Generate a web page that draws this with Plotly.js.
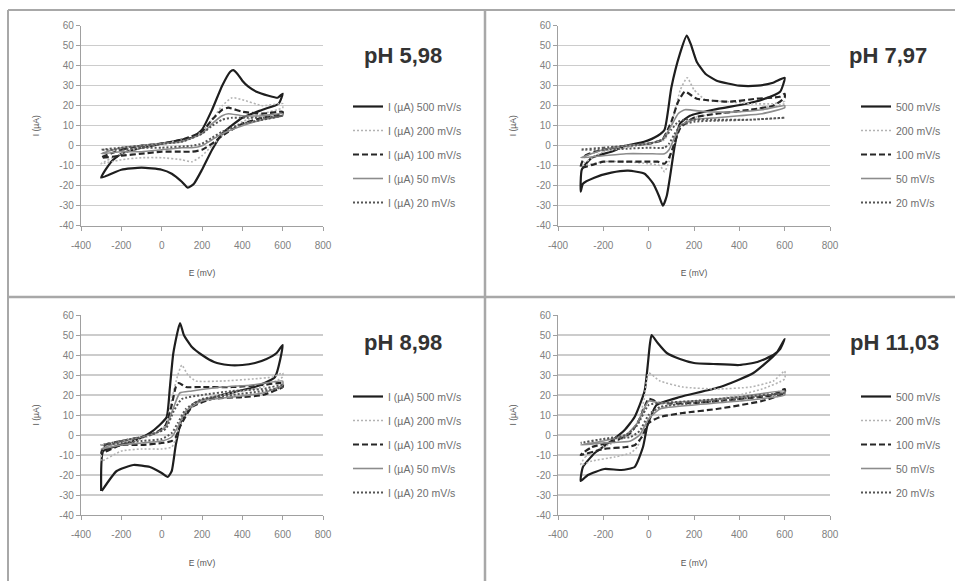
<!DOCTYPE html>
<html>
<head>
<meta charset="utf-8">
<script src="https://cdn.plot.ly/plotly-3.0.1.min.js"></script>
<style>html,body{margin:0;padding:0;background:#fff;}#chart{width:955px;height:581px;}</style>
</head>
<body>
<div id="chart"></div>
<script>
// ---------- tick labels ----------
const xTickVals = [-400, -200, 0, 200, 400, 600, 800];
const xTickText = ["-400", "-200", "0", "200", "400", "600", "800"];
const yTickVals = [-40, -30, -20, -10, 0, 10, 20, 30, 40, 50, 60];
const yTickText = ["-40", "-30", "-20", "-10", "0", "10", "20", "30", "40", "50", "60"];

// ---------- panel titles & series names ----------
const panelTitles = ["pH 5,98", "pH 7,97", "pH 8,98", "pH 11,03"];
const scanRates = ["500 mV/s", "200 mV/s", "100 mV/s", "50 mV/s", "20 mV/s"];
const namePrefix = ["I (µA) ", "", "I (µA) ", ""];

// ---------- pH 5,98 ----------
const E_598_500 = [-300,-250,-200,-100,0,100,150,200,250,300,340,355,375,400,430,470,530,575,600, 580,500,400,300,250,200,160,130,100,50,0,-100,-200,-300];
const I_598_500 = [-16,-8,-4,-1,1,3,4,8,18,30,37,37.8,36,32.5,29.5,27,25,24,26, 21,18,14,6,-2,-12,-19,-21,-18,-14,-12,-11,-12,-16];
const E_598_200 = [-300,-200,-100,0,100,200,250,300,350,400,500,600, 600,500,400,300,250,200,150,100,0,-100,-200,-300];
const I_598_200 = [-9,-4,-1,1,3,7,13,20,24,23,20,21, 19,16,12,5,0,-5,-8,-7,-6,-6,-7,-9];
const E_598_100 = [-300,-200,-100,0,100,200,250,300,330,400,500,600, 600,500,400,300,250,200,150,100,0,-100,-200,-300];
const I_598_100 = [-6,-2,0,1,3,7,13,18,19,17,16,17, 16,14,11,5,1,-2,-3,-3,-3,-4,-5,-6];
const E_598_50 = [-300,-200,-100,0,100,200,250,300,330,400,500,600, 600,500,400,300,250,200,150,100,0,-100,-200,-300];
const I_598_50 = [-4,-1,0,1,2,6,11,15,16,15,15,16, 15,13,10,6,3,0,-1,-1,-2,-3,-3,-4];
const E_598_20 = [-300,-200,-100,0,100,200,250,300,350,400,500,600, 600,500,400,300,250,200,150,0,-100,-200,-300];
const I_598_20 = [-2,-1,0,1,2,6,10,13,14,14,14,15, 15,13,11,7,4,1,0,-1,-1,-2,-2];

// ---------- pH 7,97 ----------
const E_797_500 = [-300,-295,-250,-165,-100,-20,40,70,100,138,168,185,212,250,300,400,480,549,600, 580,500,432,285,182,138,115,95,80,63,45,20,-18,-91,-165,-240,-290,-300];
const I_797_500 = [-23,-12,-6,-3,0,2,5,8,29,46,55,51,42,36,32.5,30,30,31.5,34, 27,23,21,18,15,11,0,-15,-25,-30,-25,-19,-14,-12.5,-13.5,-16,-19,-23];
const E_797_200 = [-300,-200,-100,0,70,110,140,170,200,250,350,450,550,600, 600,500,400,300,200,140,110,90,70,50,0,-100,-200,-300];
const I_797_200 = [-10,-3,-1,1,3,15,28,34,28,23,22,21,21,22, 21,19,17,16,14,10,0,-8,-13,-10,-9,-8,-8,-10];
const E_797_100 = [-300,-280,-200,-100,0,60,100,130,160,212,359,476,579,600, 600,550,450,300,200,140,110,90,70,40,0,-100,-200,-300];
const I_797_100 = [-11,-5,-2,0,1,3,12,22,27,23.5,22,23.5,24.5,26, 24,20,18,16,14,9,0,-6,-9,-8,-8,-8,-8,-11];
const E_797_50 = [-300,-200,-100,0,60,100,130,160,250,400,500,600, 600,500,400,300,200,140,110,90,70,0,-100,-200,-300];
const I_797_50 = [-6,-2,0,1,3,10,16,18,17,17,18,20, 19,16,15,14,13,10,3,-2,-4,-4,-4,-5,-6];
const E_797_20 = [-300,-200,-100,0,60,100,130,160,300,450,600, 600,450,300,200,140,110,90,70,0,-100,-200,-300];
const I_797_20 = [-2,-1,0,1,3,8,12,13,13,13,14, 14,13,12.5,12,10,5,1,-1,-1,-1.5,-2,-2];

// ---------- pH 8,98 ----------
const E_898_500 = [-300,-290,-223,-140,-58,-10,25,41,58,91,110,150,200,260,330,400,463,520,570,600, 562,463,297,165,99,70,50,30,0,-58,-140,-223,-297];
const I_898_500 = [-28,-8,-5.5,-3,1,5,9,24,41,56,50,44,40,36.5,35,35,36,38,41,45, 29,24,20,16,7.5,-5,-18,-21,-19,-16,-15,-18,-28];
const E_898_200 = [-300,-290,-200,-100,-30,20,50,80,100,130,170,300,450,550,600, 600,500,400,250,150,90,70,50,0,-100,-200,-300];
const I_898_200 = [-13,-7,-4,-2,1,5,18,30,35,30,27,27,28,29,31, 29,24,22,19,15,5,-2,-6,-7,-7,-8,-13];
const E_898_100 = [-300,-280,-200,-100,-30,20,50,70,85,120,200,350,500,600, 600,500,400,250,150,90,70,50,0,-100,-200,-300];
const I_898_100 = [-9,-5,-3,-1,1,5,15,24,26,24,24,24,25,26, 24,20,19,18,14,4,-1,-3,-4,-5,-5,-9];
const E_898_50 = [-300,-200,-100,-30,20,60,90,150,300,450,600, 600,500,350,200,120,80,50,0,-100,-200,-300];
const I_898_50 = [-7,-3,-1,1,4,14,21,22,24,25,27, 25,21,19,17,12,4,-1,-3,-4,-5,-7];
const E_898_20 = [-300,-200,-100,-30,20,60,100,200,350,500,600, 600,500,350,200,120,80,50,0,-100,-200,-300];
const I_898_20 = [-5,-3,-1,1,3,12,18,20,22,23,25, 24,22,20,18,13,6,1,-2,-3,-4,-5];

// ---------- pH 11,03 ----------
const E_1103_500 = [-300,-290,-238,-165,-106,-62,-18,5,13,40,80,138,200,285,400,480,550,580,600, 564,462,315,138,35,-5,-25,-62,-121,-195,-268,-300];
const I_1103_500 = [-23,-16,-9,-3,2.5,9,22,45,50,46,41,38,36,35.5,35,36.5,40,43,48, 41,31,24,19,15,5,-6,-16,-17.5,-17,-20,-23];
const E_1103_200 = [-300,-280,-200,-100,-50,-20,0,50,150,300,450,550,600, 600,500,400,250,100,20,-20,-50,-80,-150,-250,-300];
const I_1103_200 = [-15,-11,-6,-1,5,18,31,27,24,23,24,27,32, 28,23,20,17,15,12,3,-6,-9,-11,-13,-15];
const E_1103_100 = [-300,-250,-150,-80,-40,0,50,200,400,550,600, 600,500,300,150,50,0,-30,-60,-100,-200,-300];
const I_1103_100 = [-10,-6,-3,1,8,18,16,16,18,20,23, 21,17,13,11,9,6,-1,-5,-6,-7,-10];
const E_1103_50 = [-300,-200,-100,-50,0,50,200,400,600, 600,400,200,50,0,-40,-80,-200,-300];
const I_1103_50 = [-5,-3,0,6,17,16,17,19,22, 20,17,15,13,8,0,-3,-4,-5];
const E_1103_20 = [-300,-200,-100,-50,0,50,200,400,600, 600,400,200,50,0,-40,-80,-200,-300];
const I_1103_20 = [-4,-2,0,5,15,16,17,19,21, 21,18,16,14,10,2,-1,-2,-4];

const panelE = [
  [E_598_500, E_598_200, E_598_100, E_598_50, E_598_20],
  [E_797_500, E_797_200, E_797_100, E_797_50, E_797_20],
  [E_898_500, E_898_200, E_898_100, E_898_50, E_898_20],
  [E_1103_500, E_1103_200, E_1103_100, E_1103_50, E_1103_20]
];
const panelI = [
  [I_598_500, I_598_200, I_598_100, I_598_50, I_598_20],
  [I_797_500, I_797_200, I_797_100, I_797_50, I_797_20],
  [I_898_500, I_898_200, I_898_100, I_898_50, I_898_20],
  [I_1103_500, I_1103_200, I_1103_100, I_1103_50, I_1103_20]
];

// ---------- styles ----------
const lineStyles = [
  {color: '#1e1e1e', width: 2.2, dash: 'solid'},
  {color: '#b3b3b3', width: 1.6, dash: '2px,2px'},
  {color: '#262626', width: 2.2, dash: '6px,3px'},
  {color: '#8c8c8c', width: 1.6, dash: 'solid'},
  {color: '#555555', width: 2, dash: '2px,2px'}
];

const W = 955, H = 581;
const fx = px => px / W;
const fy = py => 1 - py / H;

// plot-area pixel boxes [x0, x1, yTop, yBottom]
const boxes = [
  [81, 323, 25.7, 225.7],
  [558, 830, 25.7, 225.7],
  [81, 323, 315, 515],
  [558, 830, 315, 515]
];
const legendPos = [[348, 92], [856, 92], [348, 382], [856, 382]];
const titlePos = [[403, 55], [888, 55], [403, 342], [894, 342]];

const traces = [];
const layout = {
  width: W, height: H,
  margin: {l: 0, r: 0, t: 0, b: 0},
  paper_bgcolor: '#ffffff',
  plot_bgcolor: '#ffffff',
  font: {family: 'Liberation Sans, Arial, sans-serif', color: '#666'},
  annotations: [],
  shapes: []
};

const legendKeys = ['legend', 'legend2', 'legend3', 'legend4'];

for (let p = 0; p < 4; p++) {
  const ax = p === 0 ? '' : String(p + 1);
  for (let s = 0; s < 5; s++) {
    traces.push({
      type: 'scatter', mode: 'lines',
      x: panelE[p][s], y: panelI[p][s],
      xaxis: 'x' + ax, yaxis: 'y' + ax,
      name: namePrefix[p] + scanRates[s],
      legend: legendKeys[p],
      legendgroup: 'g' + p + '_' + s,
      line: Object.assign({shape: 'spline', smoothing: 0.5}, lineStyles[s]),
      hoverinfo: 'skip'
    });
  }
  const b = boxes[p];
  layout['xaxis' + ax] = {
    domain: [fx(b[0]), fx(b[1])],
    anchor: 'y' + ax,
    range: [-400, 800],
    tickvals: xTickVals, ticktext: xTickText,
    showgrid: false, zeroline: false,
    showline: true, linecolor: '#a0a0a0', linewidth: 1.2,
    ticks: 'outside', ticklen: 4, tickcolor: '#a0a0a0',
    ticklabelstandoff: 6,
    tickfont: {size: 10, color: '#808080'},
    title: {text: 'E (mV)', font: {size: 8.5, color: '#555'}, standoff: 20},
    fixedrange: true
  };
  layout['yaxis' + ax] = {
    domain: [fy(b[3]), fy(b[2])],
    anchor: 'x' + ax,
    range: [-40, 60],
    tickvals: yTickVals, ticktext: yTickText,
    showgrid: true, gridcolor: '#cccccc', gridwidth: 1.5,
    zeroline: false,
    showline: true, linecolor: '#a0a0a0', linewidth: 1.2,
    ticks: 'outside', ticklen: 4, tickcolor: '#a0a0a0',
    tickfont: {size: 10, color: '#808080'},
    title: {text: 'I (µA)', font: {size: 8.5, color: '#555'}, standoff: 18},
    fixedrange: true
  };
  layout[legendKeys[p]] = {
    x: fx(legendPos[p][0]), y: fy(legendPos[p][1]),
    xanchor: 'left', yanchor: 'top',
    bgcolor: 'rgba(0,0,0,0)',
    font: {size: 10.5, color: '#6e6e6e'},
    traceorder: 'grouped', tracegroupgap: 5,
    itemclick: false, itemdoubleclick: false
  };
  layout.annotations.push({
    xref: 'paper', yref: 'paper',
    x: fx(titlePos[p][0]), y: fy(titlePos[p][1]),
    xanchor: 'center', yanchor: 'middle',
    text: panelTitles[p], showarrow: false,
    font: {size: 22, color: '#333', weight: 'bold', family: 'Liberation Sans, Arial, sans-serif'}
  });
}

// panel frame lines
const frameColor = '#a8a8a8';
layout.shapes = [
  {type: 'line', xref: 'paper', yref: 'paper', x0: fx(8), x1: 1, y0: fy(10), y1: fy(10), line: {color: frameColor, width: 2}},
  {type: 'line', xref: 'paper', yref: 'paper', x0: fx(8), x1: fx(8), y0: fy(10), y1: 0, line: {color: frameColor, width: 2}},
  {type: 'line', xref: 'paper', yref: 'paper', x0: fx(485), x1: fx(485), y0: fy(10), y1: 0, line: {color: frameColor, width: 2.5}},
  {type: 'line', xref: 'paper', yref: 'paper', x0: fx(8), x1: 1, y0: fy(297), y1: fy(297), line: {color: frameColor, width: 2.5}}
];

Plotly.newPlot('chart', traces, layout, {displayModeBar: false, staticPlot: true});
</script>
</body>
</html>
